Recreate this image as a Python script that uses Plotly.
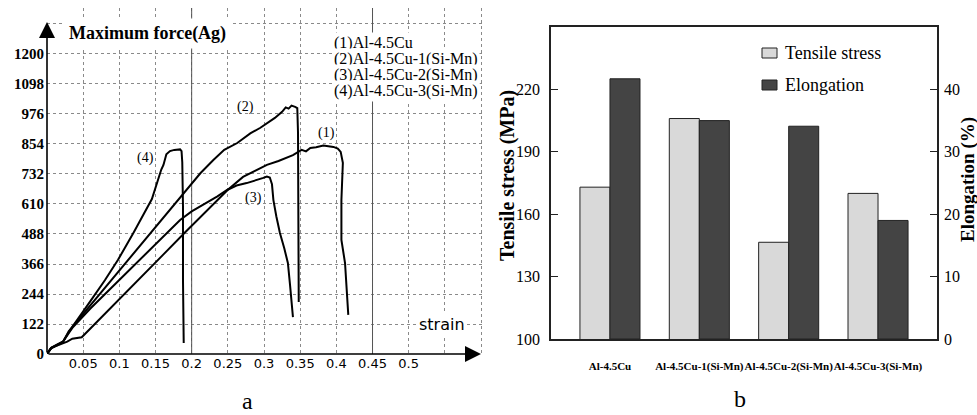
import plotly.graph_objects as go

W, H = 977, 415

# ---------------- panel a: force-strain curves ----------------
c1_strain = [0, 0.005, 0.012, 0.02, 0.028, 0.035, 0.042, 0.048, 0.06, 0.08, 0.1, 0.13, 0.16,
             0.19, 0.22, 0.235, 0.25, 0.271, 0.29, 0.304, 0.32, 0.34, 0.352, 0.358, 0.364,
             0.372, 0.382, 0.39, 0.396, 0.402, 0.406, 0.409, 0.407, 0.407, 0.412, 0.4165]
c1_force = [0, 22, 32, 40, 50, 62, 66, 68, 104, 163, 223, 313, 402,
            492, 581, 626, 668, 720, 748, 769, 785, 809, 830, 824, 838,
            841, 848, 846, 842, 835, 822, 777, 626, 464, 370, 159]

c2_strain = [0, 0.006, 0.014, 0.022, 0.03, 0.06, 0.1, 0.14, 0.188, 0.212, 0.23, 0.245, 0.263,
             0.281, 0.295, 0.304, 0.315, 0.325, 0.33, 0.334, 0.338, 0.343, 0.346, 0.347,
             0.347, 0.348, 0.348]
c2_force = [0, 25, 35, 48, 92, 198, 339, 480, 650, 735, 789, 830, 858,
            897, 920, 939, 960, 985, 1003, 998, 1010, 1005, 1000, 900,
            600, 400, 211]

c3_strain = [0, 0.006, 0.014, 0.022, 0.03, 0.036, 0.06, 0.1, 0.14, 0.184, 0.2, 0.221, 0.235,
             0.249, 0.262, 0.276, 0.288, 0.299, 0.304, 0.308, 0.311, 0.313, 0.317, 0.322,
             0.328, 0.333, 0.336, 0.340]
c3_force = [0, 25, 38, 50, 85, 110, 185, 300, 418, 545, 580, 614, 640,
            667, 685, 695, 705, 716, 722, 718, 690, 626, 560, 492,
            430, 370, 280, 150]

c4_strain = [0, 0.006, 0.014, 0.022, 0.03, 0.036, 0.06, 0.08, 0.098, 0.12, 0.145, 0.152, 0.158,
             0.161, 0.165, 0.17, 0.176, 0.184, 0.186, 0.187, 0.188, 0.188, 0.189]
c4_force = [0, 25, 38, 50, 88, 115, 215, 300, 382, 495, 630, 700, 750,
            769, 812, 825, 830, 832, 825, 780, 600, 300, 45]

curve_tags = ["(1)", "(2)", "(3)", "(4)"]
tag_strain = [0.387, 0.274, 0.285, 0.1355]
tag_force = [899, 1005, 636, 797]

alloy_names = ["(1)Al-4.5Cu", "(2)Al-4.5Cu-1(Si-Mn)", "(3)Al-4.5Cu-2(Si-Mn)", "(4)Al-4.5Cu-3(Si-Mn)"]

strain_ticks = [0, 0.05, 0.1, 0.15, 0.2, 0.25, 0.3, 0.35, 0.4, 0.45, 0.5, 0.55, 0.6]
strain_labels = ["", "0.05", "0.1", "0.15", "0.2", "0.25", "0.3", "0.35", "0.4", "0.45", "0.5", "", ""]
force_ticks = [0, 122, 244, 366, 488, 610, 732, 854, 976, 1098, 1220, 1342]
force_labels = ["0", "122", "244", "366", "488", "610", "732", "854", "976", "1098", "1200", ""]

# ---------------- panel b: tensile stress and elongation ----------------
alloys = ["Al-4.5Cu", "Al-4.5Cu-1(Si-Mn)", "Al-4.5Cu-2(Si-Mn)", "Al-4.5Cu-3(Si-Mn)"]
tensile_stress = [173, 206, 146.5, 170]   # MPa
elongation = [41.7, 35.0, 34.1, 19.0]     # %
stress_ticks = [100, 130, 160, 190, 220]
elong_ticks = [0, 10, 20, 30, 40]

SERIF = "Liberation Serif"
SANS = "DejaVu Sans"

fig = go.Figure()

for xs, ys in [(c1_strain, c1_force), (c2_strain, c2_force), (c3_strain, c3_force), (c4_strain, c4_force)]:
    fig.add_trace(go.Scatter(x=xs, y=ys, mode="lines", xaxis="x", yaxis="y",
                             line=dict(color="black", width=2), showlegend=False, hoverinfo="skip"))

LIGHT, DARK = "#d9d9d9", "#444444"
fig.add_trace(go.Bar(x=alloys, y=tensile_stress, xaxis="x2", yaxis="y2", width=0.336, offset=-0.336,
                     marker=dict(color=LIGHT, line=dict(color="#222", width=1)), showlegend=False))
fig.add_trace(go.Bar(x=alloys, y=elongation, xaxis="x3", yaxis="y3", width=0.336, offset=0,
                     marker=dict(color=DARK, line=dict(color="#222", width=1)), showlegend=False))

grid = dict(showgrid=True, gridcolor="#8a8a8a", griddash="dot", gridwidth=1, zeroline=False,
            showline=False, ticks="", automargin=False, tickangle=0)

annotations = []
# curve tags
for t, sx, fy in zip(curve_tags, tag_strain, tag_force):
    annotations.append(dict(x=sx, y=fy, xref="x", yref="y", text=t, showarrow=False,
                            font=dict(family=SERIF, size=14, color="black")))
# alloy key
for i, name in enumerate(alloy_names):
    annotations.append(dict(x=0.394, y=1265 - i * 65, xref="x", yref="y", text=name, showarrow=False,
                            xanchor="left", bgcolor="white", borderpad=1,
                            font=dict(family=SERIF, size=16, color="black")))
annotations += [
    dict(x=0.1396, y=1305, xref="x", yref="y", text="<b>Maximum force(Ag)</b>", showarrow=False,
         bgcolor="white", borderpad=4, font=dict(family=SERIF, size=18, color="black")),
    dict(x=0.546, y=122, xref="x", yref="y", text="strain", showarrow=False,
         bgcolor="white", borderpad=1, font=dict(family=SANS, size=16, color="black")),
    # axis arrows
    dict(x=0.6, y=0, ax=0, ay=0, xref="x", yref="y", axref="x", ayref="y", text="", showarrow=True,
         arrowhead=2, arrowsize=2, arrowwidth=1.6, arrowcolor="black"),
    dict(x=0, y=1350, ax=0, ay=0, xref="x", yref="y", axref="x", ayref="y", text="", showarrow=True,
         arrowhead=2, arrowsize=2, arrowwidth=1.6, arrowcolor="black"),
    # panel b titles
    dict(x=507 / W, y=1 - 176 / H, xref="paper", yref="paper", text="<b>Tensile stress (MPa)</b>",
         textangle=-90, showarrow=False, xanchor="center", yanchor="middle",
         font=dict(family=SERIF, size=20, color="black")),
    dict(x=968 / W, y=1 - 180 / H, xref="paper", yref="paper", text="<b>Elongation (%)</b>",
         textangle=-90, showarrow=False, xanchor="center", yanchor="middle",
         font=dict(family=SERIF, size=19, color="black")),
    # legend texts for panel b
    dict(x=783 / W, y=1 - 53 / H, xref="paper", yref="paper", text="Tensile stress", xanchor="left",
         yanchor="middle", showarrow=False, font=dict(family=SERIF, size=18, color="black")),
    dict(x=783 / W, y=1 - 85 / H, xref="paper", yref="paper", text="Elongation", xanchor="left",
         yanchor="middle", showarrow=False, font=dict(family=SERIF, size=18, color="black")),
    # panel letters
    dict(x=248 / W, y=1 - 401 / H, xref="paper", yref="paper", text="a", showarrow=False,
         xanchor="center", yanchor="middle", font=dict(family=SERIF, size=24, color="black")),
    dict(x=740 / W, y=1 - 399 / H, xref="paper", yref="paper", text="b", showarrow=False,
         xanchor="center", yanchor="middle", font=dict(family=SERIF, size=24, color="black")),
]

shapes = [
    dict(type="line", xref="x", yref="y", x0=0.2, x1=0.2, y0=0, y1=1407, layer="between",
         line=dict(color="#555", width=1)),
    dict(type="line", xref="x", yref="y", x0=0.45, x1=0.45, y0=0, y1=1407, layer="between",
         line=dict(color="#555", width=1)),
    dict(type="rect", xref="paper", yref="paper", x0=762 / W, x1=777 / W, y0=1 - 58 / H, y1=1 - 48 / H,
         fillcolor=LIGHT, line=dict(color="#222", width=1)),
    dict(type="rect", xref="paper", yref="paper", x0=762 / W, x1=777 / W, y0=1 - 90 / H, y1=1 - 80 / H,
         fillcolor=DARK, line=dict(color="#222", width=1)),
]

b_xdom = [551 / W, 937 / W]
b_ydom = [1 - 339 / H, 1 - 27 / H]

fig.update_layout(
    width=W, height=H, autosize=False,
    margin=dict(l=0, r=0, t=0, b=0, autoexpand=False),
    paper_bgcolor="white", plot_bgcolor="white",
    xaxis=dict(domain=[47 / W, 485 / W], range=[0, 0.6055], anchor="y",
               tickvals=strain_ticks, ticktext=strain_labels,
               tickfont=dict(family=SANS, size=13, color="black"), **grid),
    yaxis=dict(domain=[1 - 354 / H, 1 - 8 / H], range=[0, 1407], anchor="x",
               tickvals=force_ticks, ticktext=force_labels, ticklabelstandoff=2,
               tickfont=dict(family=SERIF, size=15, color="black", weight="bold"), **grid),
    xaxis2=dict(domain=b_xdom, anchor="y2", type="category", categoryarray=alloys,
                range=[-0.66, 3.66], showline=True, linecolor="#222", linewidth=1.5, mirror=True,
                ticks="", showgrid=False, ticklabelstandoff=16, automargin=False, tickangle=0,
                tickfont=dict(family=SERIF, size=11, color="black", weight="bold")),
    xaxis3=dict(domain=b_xdom, anchor="y3", type="category", categoryarray=alloys,
                range=[-0.66, 3.66], overlaying="x2", visible=False, automargin=False),
    yaxis2=dict(domain=b_ydom, anchor="x2", range=[100, 250], tickvals=stress_ticks,
                ticks="inside", ticklen=7, tickcolor="#222", showline=True, linecolor="#222",
                linewidth=1.5, mirror=True, showgrid=False, zeroline=False, ticklabelstandoff=6,
                automargin=False, tickfont=dict(family=SERIF, size=16, color="black")),
    yaxis3=dict(domain=b_ydom, anchor="x2", overlaying="y2", side="right", range=[0, 50],
                tickvals=elong_ticks, ticks="inside", ticklen=7, tickcolor="#222",
                showline=False, showgrid=False, zeroline=False, ticklabelstandoff=6,
                automargin=False, tickfont=dict(family=SERIF, size=16, color="black")),
    annotations=annotations,
    shapes=shapes,
)

fig.write_html("out.html")
